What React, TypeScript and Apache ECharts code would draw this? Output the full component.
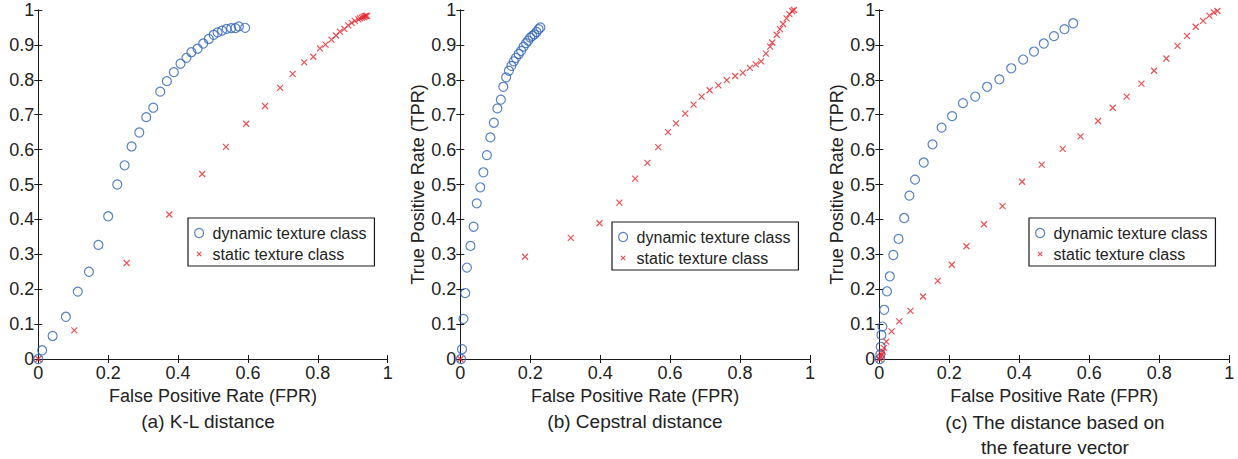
import React, { useEffect, useRef } from "react";
import * as echarts from "echarts";

// ---- data (FPR, TPR) ----
const klDynamic: number[][] = [
  [0, 0], [0.011, 0.025], [0.041, 0.066], [0.079, 0.121], [0.113, 0.193], [0.145, 0.25],
  [0.172, 0.327], [0.2, 0.409], [0.226, 0.5], [0.247, 0.555], [0.267, 0.609], [0.289, 0.649],
  [0.309, 0.693], [0.329, 0.72], [0.349, 0.766], [0.368, 0.796], [0.388, 0.822], [0.407, 0.846],
  [0.424, 0.863], [0.438, 0.879], [0.456, 0.889], [0.472, 0.904], [0.488, 0.917], [0.502, 0.929],
  [0.513, 0.936], [0.526, 0.941], [0.539, 0.946], [0.552, 0.948], [0.564, 0.948], [0.574, 0.953],
  [0.592, 0.949],
];
const klStatic: number[][] = [
  [0, 0], [0.103, 0.082], [0.253, 0.275], [0.375, 0.414], [0.469, 0.53], [0.537, 0.608],
  [0.595, 0.674], [0.649, 0.725], [0.692, 0.777], [0.728, 0.817], [0.761, 0.85], [0.787, 0.866],
  [0.806, 0.89], [0.822, 0.901], [0.839, 0.915], [0.852, 0.927], [0.863, 0.938], [0.876, 0.946],
  [0.887, 0.956], [0.897, 0.963], [0.906, 0.969], [0.916, 0.973], [0.921, 0.976], [0.926, 0.978],
  [0.931, 0.98], [0.935, 0.982], [0.938, 0.983], [0.941, 0.983],
];
const cepDynamic: number[][] = [
  [0.002, 0], [0.005, 0.028], [0.009, 0.115], [0.014, 0.189], [0.019, 0.262], [0.029, 0.324],
  [0.038, 0.379], [0.047, 0.446], [0.057, 0.492], [0.066, 0.535], [0.076, 0.584], [0.086, 0.635],
  [0.096, 0.677], [0.106, 0.718], [0.116, 0.743], [0.123, 0.78], [0.131, 0.807], [0.139, 0.826],
  [0.146, 0.84], [0.153, 0.853], [0.159, 0.863], [0.167, 0.874], [0.174, 0.883], [0.181, 0.895],
  [0.188, 0.905], [0.194, 0.912], [0.2, 0.921], [0.206, 0.926], [0.212, 0.93], [0.218, 0.937],
  [0.224, 0.945], [0.229, 0.95],
];
const cepStatic: number[][] = [
  [0, 0], [0.185, 0.293], [0.316, 0.347], [0.398, 0.389], [0.455, 0.448], [0.5, 0.517],
  [0.535, 0.562], [0.566, 0.607], [0.594, 0.65], [0.617, 0.675], [0.643, 0.703], [0.667, 0.729],
  [0.69, 0.752], [0.713, 0.77], [0.738, 0.784], [0.762, 0.799], [0.786, 0.811], [0.808, 0.82],
  [0.828, 0.834], [0.845, 0.844], [0.86, 0.853], [0.874, 0.875], [0.886, 0.895], [0.892, 0.907],
  [0.905, 0.929], [0.914, 0.945], [0.923, 0.96], [0.933, 0.976], [0.941, 0.988], [0.949, 0.997],
  [0.954, 1.0],
];
const featDynamic: number[][] = [
  [0.002, 0], [0.003, 0.013], [0.004, 0.035], [0.006, 0.069], [0.009, 0.093], [0.014, 0.141],
  [0.022, 0.194], [0.03, 0.237], [0.04, 0.298], [0.055, 0.344], [0.071, 0.404], [0.086, 0.468],
  [0.102, 0.514], [0.127, 0.563], [0.152, 0.615], [0.178, 0.663], [0.208, 0.696], [0.239, 0.733],
  [0.274, 0.752], [0.308, 0.78], [0.343, 0.801], [0.377, 0.833], [0.411, 0.858], [0.442, 0.881],
  [0.47, 0.904], [0.499, 0.925], [0.529, 0.945], [0.554, 0.962],
];
const featStatic: number[][] = [
  [0, 0], [0.004, 0.007], [0.007, 0.013], [0.01, 0.021], [0.013, 0.032], [0.02, 0.05],
  [0.035, 0.079], [0.057, 0.108], [0.089, 0.138], [0.125, 0.179], [0.167, 0.224], [0.207, 0.27],
  [0.249, 0.323], [0.299, 0.386], [0.352, 0.438], [0.408, 0.508], [0.464, 0.557], [0.524, 0.602],
  [0.575, 0.638], [0.625, 0.682], [0.667, 0.72], [0.707, 0.752], [0.749, 0.789], [0.785, 0.826],
  [0.82, 0.861], [0.852, 0.897], [0.879, 0.926], [0.904, 0.952], [0.925, 0.969], [0.943, 0.984],
  [0.956, 0.993], [0.966, 0.997],
];

const seriesNames = ["dynamic texture class", "static texture class"];
const captions = ["(a) K-L distance", "(b) Cepstral distance", "(c) The distance based on\nthe feature vector"];
const xAxisTitle = "False Positive Rate (FPR)";
const yAxisTitle = "True Positive Rate (TPR)";
const panelData = [
  [klDynamic, klStatic],
  [cepDynamic, cepStatic],
  [featDynamic, featStatic],
];

// ---- layout ----
const gridBoxes = [
  { left: 38.3, top: 10, width: 349.4, height: 349 },
  { left: 460.3, top: 10, width: 349.7, height: 349 },
  { left: 879.3, top: 10, width: 350, height: 349 },
];
const showYTitle = [false, true, true];
const legendPos = [
  { left: 188, top: 218 },
  { left: 612, top: 222 },
  { left: 1029, top: 218 },
];
const captionPos = [
  { x: 208, y: 409 },
  { x: 635, y: 409 },
  { x: 1055, y: 410 },
];

const FONT = "'Liberation Sans', Arial, sans-serif";
const AXIS_COLOR = "#1a1a1a";
const TEXT_COLOR = "#222";
const BLUE = "#2f63b8";
const RED = "#e8232b";
const CROSS = "path://M0,0L10,10M10,0L0,10";
const LEGEND_CROSS = "path://M0,0M10,10M2.6,2.6L7.4,7.4M7.4,2.6L2.6,7.4";

export default function App() {
  const ref = useRef<HTMLDivElement>(null);
  useEffect(() => {
    if (!ref.current) return;
    const chart = echarts.init(ref.current, undefined, { renderer: "svg" });

    const grid: any[] = [];
    const xAxis: any[] = [];
    const yAxis: any[] = [];
    const series: any[] = [];
    const legend: any[] = [];
    const graphic: any[] = [];

    gridBoxes.forEach((g, i) => {
      grid.push({ ...g, containLabel: false });
      const line = { show: true, lineStyle: { color: AXIS_COLOR, width: 1 } };
      const tick = { show: true, inside: true, length: 4, lineStyle: { color: AXIS_COLOR, width: 1 } };
      const label = { color: TEXT_COLOR, fontSize: 18, fontFamily: FONT };
      xAxis.push({
        type: "value", gridIndex: i, position: "bottom", min: 0, max: 1, interval: 0.2,
        axisLine: line, axisTick: tick, splitLine: { show: false },
        axisLabel: { ...label, margin: 5, formatter: (v: number) => String(+v.toFixed(1)) },
        name: xAxisTitle, nameLocation: "middle", nameGap: 28,
        nameTextStyle: { color: TEXT_COLOR, fontSize: 18, fontFamily: FONT },
      });
      xAxis.push({
        type: "value", gridIndex: i, position: "top", min: 0, max: 1, interval: 0.2,
        axisLine: line, axisTick: tick, splitLine: { show: false }, axisLabel: { show: false },
      });
      yAxis.push({
        type: "value", gridIndex: i, position: "left", min: 0, max: 1, interval: 0.1,
        axisLine: line, axisTick: tick, splitLine: { show: false },
        axisLabel: { ...label, margin: 4, formatter: (v: number) => String(+v.toFixed(1)) },
        name: showYTitle[i] ? yAxisTitle : "", nameLocation: "middle", nameGap: 33,
        nameTextStyle: { color: TEXT_COLOR, fontSize: 18, fontFamily: FONT },
      });
      yAxis.push({
        type: "value", gridIndex: i, position: "right", min: 0, max: 1, interval: 0.1,
        axisLine: line, axisTick: tick, splitLine: { show: false }, axisLabel: { show: false },
      });

      const [dyn, stat] = panelData[i];
      series.push({
        type: "scatter", name: seriesNames[0], xAxisIndex: 2 * i, yAxisIndex: 2 * i,
        data: dyn, symbol: "circle", symbolSize: 9, clip: false,
        itemStyle: { color: "rgba(0,0,0,0)", borderColor: BLUE, borderWidth: 1.2 },
        emphasis: { disabled: true },
      });
      series.push({
        type: "scatter", name: seriesNames[1], xAxisIndex: 2 * i, yAxisIndex: 2 * i,
        data: stat, symbol: CROSS, symbolSize: 6, clip: false,
        itemStyle: { color: "rgba(0,0,0,0)", borderColor: RED, borderWidth: 1.2 },
        emphasis: { disabled: true },
      });

      legend.push({
        ...legendPos[i], orient: "vertical", selectedMode: false,
        data: [
          {
            name: seriesNames[0], icon: "circle",
            itemStyle: { color: "rgba(0,0,0,0)", borderColor: BLUE, borderWidth: 1.2 },
          },
          {
            name: seriesNames[1], icon: LEGEND_CROSS,
            itemStyle: { color: "rgba(0,0,0,0)", borderColor: RED, borderWidth: 1.2 },
          },
        ],
        backgroundColor: "#fff", borderColor: AXIS_COLOR, borderWidth: 1.2,
        padding: [7, 8, 4, 6], itemGap: 5, itemWidth: 9, itemHeight: 9,
        textStyle: { color: TEXT_COLOR, fontSize: 16, fontFamily: FONT, padding: [0, 0, 0, 4] },
      });

      graphic.push({
        type: "text", x: captionPos[i].x, y: captionPos[i].y,
        style: {
          text: captions[i], textAlign: "center", textVerticalAlign: "top",
          fontSize: 19, fontFamily: FONT, fill: TEXT_COLOR, lineHeight: 25,
        },
      });
    });

    chart.setOption({
      animation: false,
      backgroundColor: "#fff",
      grid, xAxis, yAxis, series, legend, graphic,
    });
    return () => chart.dispose();
  }, []);
  return <div ref={ref} style={{ position: "fixed", left: 0, top: 0, width: 1238, height: 459 }} />;
}
